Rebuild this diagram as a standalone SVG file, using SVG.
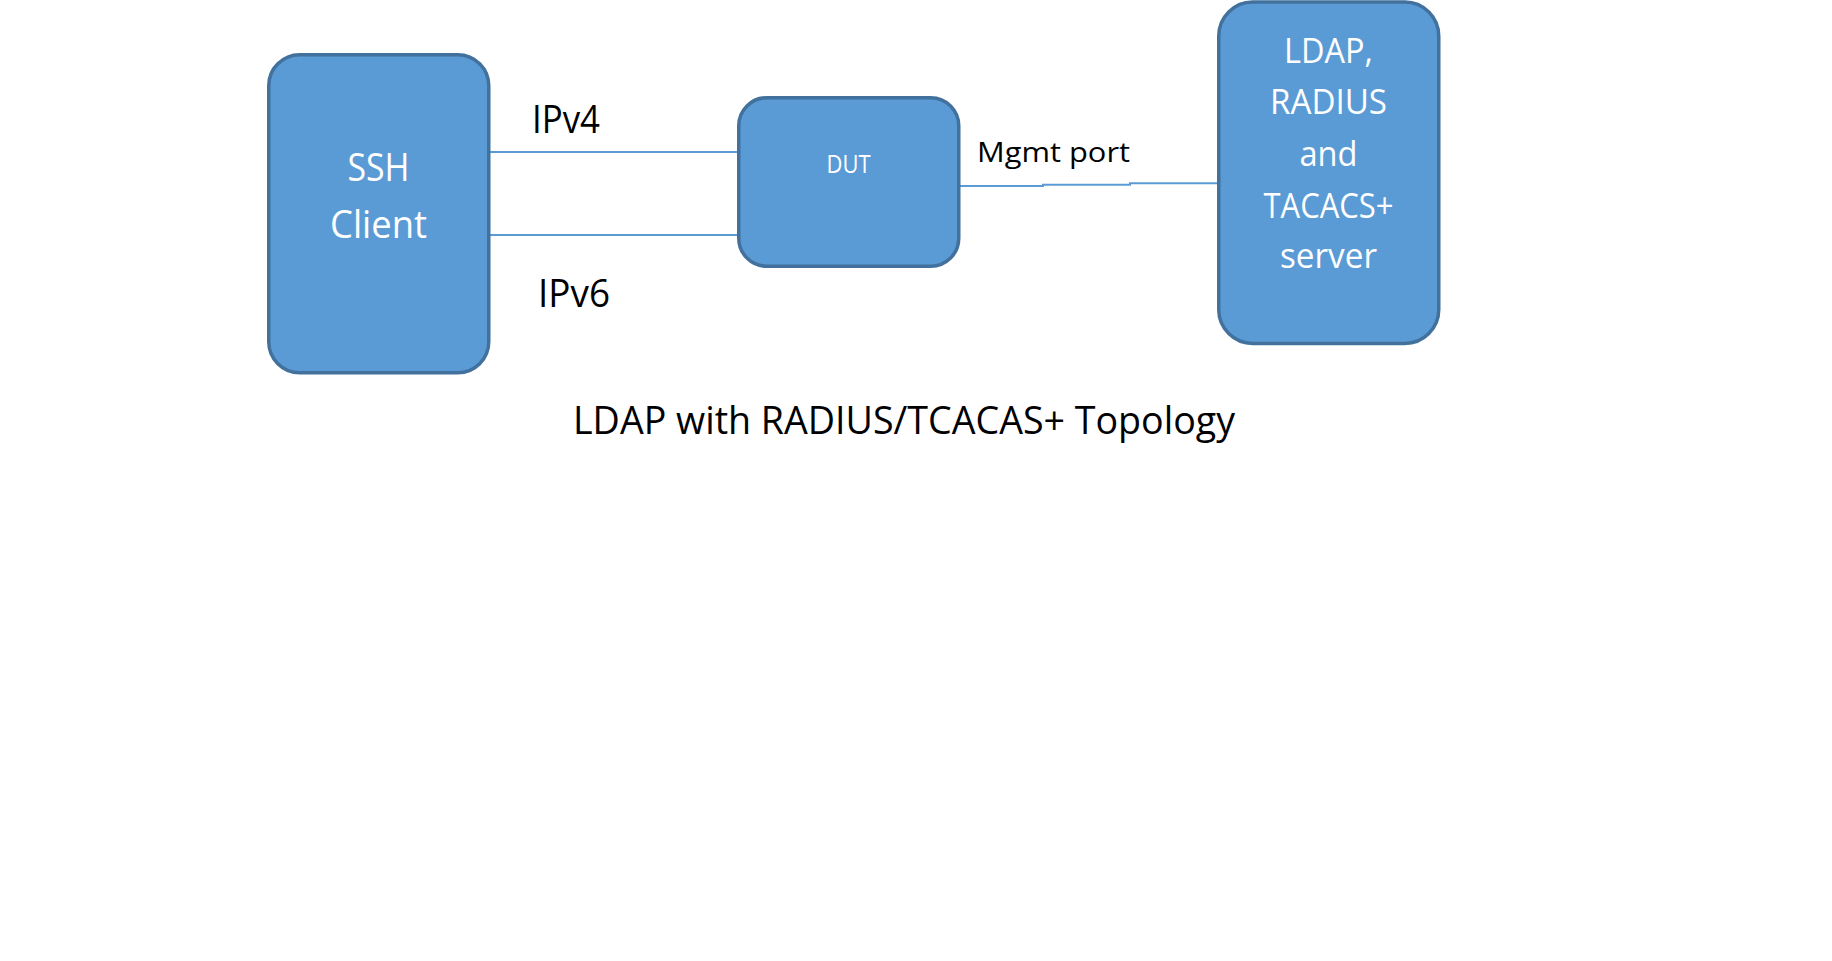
<svg xmlns="http://www.w3.org/2000/svg" width="1832" height="961" viewBox="0 0 1832 961">
<style>
.node{fill:#5B9BD5;stroke:#41719C;stroke-width:3.5}
.wt{fill:#FFFFFF;font-family:"Open Sans","Liberation Sans",sans-serif;text-anchor:middle}
.bt{fill:#000000;font-family:"Open Sans","Liberation Sans",sans-serif}
.link{fill:none;stroke:#5B9BD5;stroke-width:2}
</style>
<rect x="0" y="0" width="1832" height="961" fill="#FFFFFF"/>
<g id="connectors">
<line class="link" x1="490" y1="152" x2="737" y2="152"/>
<line class="link" x1="490" y1="235" x2="737" y2="235"/>
<path class="link" d="M960 186 H1043 V184.7 H1130 V183.3 H1217"/>
</g>
<g id="ssh-client">
<rect class="node" x="268.75" y="54.75" width="220" height="318" rx="31" ry="31"/>
<text class="wt" x="378.5" y="181" font-size="39" textLength="62" lengthAdjust="spacingAndGlyphs">SSH</text>
<text class="wt" x="378.5" y="238" font-size="39" textLength="97" lengthAdjust="spacingAndGlyphs">Client</text>
</g>
<g id="dut">
<rect class="node" x="738.75" y="97.75" width="220" height="168.5" rx="28" ry="28"/>
<text class="wt" x="848.5" y="173" font-size="25" textLength="44" lengthAdjust="spacingAndGlyphs">DUT</text>
</g>
<g id="server">
<rect class="node" x="1218.75" y="2" width="220" height="341.5" rx="34" ry="34"/>
<text class="wt" x="1328.5" y="63" font-size="34" textLength="89" lengthAdjust="spacingAndGlyphs">LDAP,</text>
<text class="wt" x="1328.5" y="114" font-size="34" textLength="117" lengthAdjust="spacingAndGlyphs">RADIUS</text>
<text class="wt" x="1328.5" y="166" font-size="34" textLength="58" lengthAdjust="spacingAndGlyphs">and</text>
<text class="wt" x="1328.5" y="218" font-size="34" textLength="130" lengthAdjust="spacingAndGlyphs">TACACS+</text>
<text class="wt" x="1328.5" y="268" font-size="34" textLength="97" lengthAdjust="spacingAndGlyphs">server</text>
</g>
<g id="labels">
<text class="bt" x="532" y="133" font-size="39" textLength="68" lengthAdjust="spacingAndGlyphs">IPv4</text>
<text class="bt" x="538" y="307" font-size="39" textLength="72" lengthAdjust="spacingAndGlyphs">IPv6</text>
<text class="bt" x="977" y="162" font-size="28" textLength="153" lengthAdjust="spacingAndGlyphs">Mgmt port</text>
<text class="bt" x="573" y="434" font-size="39" textLength="662" lengthAdjust="spacingAndGlyphs">LDAP with RADIUS/TCACAS+ Topology</text>
</g>
</svg>
